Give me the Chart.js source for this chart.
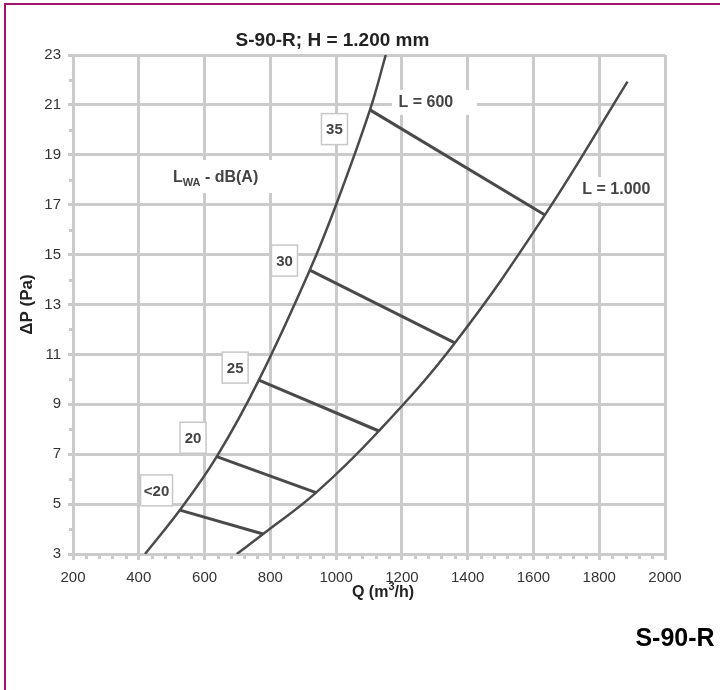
<!DOCTYPE html>
<html><head><meta charset="utf-8">
<script src="https://cdn.jsdelivr.net/npm/chart.js@4.4.1/dist/chart.umd.min.js"></script>
<style>
html,body{margin:0;padding:0;background:#fff;}
#wrap{position:relative;width:720px;height:690px;overflow:hidden;}
#frame{position:absolute;left:4px;top:3px;width:730px;height:700px;border-left:2px solid #a5156b;border-top:2px solid #a5156b;pointer-events:none;}
canvas{position:absolute;left:0;top:0;}
</style></head><body>
<div id="wrap"><canvas id="c" width="720" height="690"></canvas><div id="frame"></div></div>
<script>
// ---- data ----
const titleText = 'S-90-R; H = 1.200 mm';
const xTitle = 'Q (m³/h)';
const yTitle = 'ΔP (Pa)';
const curveNames = ['L = 600', 'L = 1.000'];
const l600Q = [419, 525, 637, 765, 920, 1000, 1103, 1151];
const l600P = [3.0, 4.76, 6.9, 9.97, 14.38, 17.0, 20.8, 23.0];
const l1000Q = [698, 778, 939, 1130, 1361, 1635, 1886];
const l1000P = [3.0, 3.8, 5.46, 7.93, 11.46, 16.59, 21.93];
const noiseLevels = ['<20', '20', '25', '30', '35'];
const noiseStartQ = [525, 637, 765, 920, 1103];
const noiseStartP = [4.76, 6.9, 9.97, 14.38, 20.8];
const noiseEndQ = [778, 939, 1130, 1361, 1635];
const noiseEndP = [3.8, 5.46, 7.93, 11.46, 16.59];
const xRange = [200, 2000], xStep = 200;
const yRange = [3, 23], yStep = 2;

// ---- layout of annotations (data coordinates) ----
const noiseLabelPos = [
  {q: 454, p: 5.55, w: 32},
  {q: 565, p: 7.66, w: 26},
  {q: 693, p: 10.47, w: 26},
  {q: 843, p: 14.76, w: 26},
  {q: 995, p: 20.03, w: 26}
];
const curveLabelPos = [
  {q: 1273, p: 21.12, bx0: 392, bx1: 477},
  {q: 1852, p: 17.63, bx0: 577, bx1: 656}
];
const unitLabelPos = {q: 504, p: 18.07};

const FONT = '"Liberation Sans", Arial, Helvetica, sans-serif';
Chart.defaults.font.family = FONT;
const GRID = '#cbcbcb';
const INK = '#4a4a4a';

const curveData = (qs, ps) => qs.map((q, i) => ({x: q, y: ps[i]}));
const datasets = [
  {label: curveNames[0], data: curveData(l600Q, l600P), borderColor: INK, borderWidth: 2.5, tension: 0.4},
  {label: curveNames[1], data: curveData(l1000Q, l1000P), borderColor: INK, borderWidth: 2.5, tension: 0.4}
];
noiseLevels.forEach((lv, i) => {
  datasets.push({label: lv + ' dB(A)', data: [{x: noiseStartQ[i], y: noiseStartP[i]}, {x: noiseEndQ[i], y: noiseEndP[i]}], borderColor: INK, borderWidth: 3});
});
datasets.forEach(d => { d.showLine = true; d.pointRadius = 0; d.fill = false; d.borderCapStyle = 'butt'; });

const annot = {
  id: 'annot',
  beforeDatasetsDraw(chart) {
    const {ctx, scales: {x, y}, chartArea: ca} = chart;
    ctx.save();
    // minor ticks
    ctx.strokeStyle = GRID; ctx.lineWidth = 3;
    for (let v = xRange[0]; v <= xRange[1]; v += 40) {
      if (v % xStep === 0) continue;
      const px = Math.round(x.getPixelForValue(v)) + 0.5;
      ctx.beginPath(); ctx.moveTo(px, ca.bottom); ctx.lineTo(px, ca.bottom + 5); ctx.stroke();
    }
    for (let v = yRange[0] + 1; v < yRange[1]; v += yStep) {
      const py = Math.round(y.getPixelForValue(v)) + 0.5;
      ctx.beginPath(); ctx.moveTo(ca.left - 4, py); ctx.lineTo(ca.left, py); ctx.stroke();
    }
    // boxed noise labels
    ctx.font = 'bold 15px ' + FONT;
    ctx.textAlign = 'center'; ctx.textBaseline = 'middle';
    noiseLevels.forEach((lv, i) => {
      const pos = noiseLabelPos[i];
      const cx = x.getPixelForValue(pos.q), cy = y.getPixelForValue(pos.p);
      const w = pos.w, h = 31;
      ctx.fillStyle = '#fff';
      ctx.fillRect(cx - w / 2, cy - h / 2, w, h);
      ctx.strokeStyle = '#c8c8c8'; ctx.lineWidth = 1.5;
      ctx.strokeRect(cx - w / 2, cy - h / 2, w, h);
      ctx.fillStyle = '#444';
      ctx.fillText(lv, cx, cy + 1);
    });
    // curve labels with white background
    ctx.font = 'bold 16px ' + FONT;
    curveNames.forEach((nm, i) => {
      const pos = curveLabelPos[i];
      const cx = x.getPixelForValue(pos.q), cy = y.getPixelForValue(pos.p);
      ctx.fillStyle = '#fff';
      ctx.fillRect(pos.bx0, cy - 12, pos.bx1 - pos.bx0, 25);
      ctx.fillStyle = '#444';
      ctx.fillText(nm, cx, cy + 1);
    });
    // L_WA - dB(A)
    const ux = x.getPixelForValue(unitLabelPos.q), uy = y.getPixelForValue(unitLabelPos.p);
    ctx.fillStyle = '#fff';
    ctx.fillRect(ux - 7, uy - 18, 108, 33);
    ctx.fillStyle = '#444';
    ctx.textAlign = 'left';
    ctx.font = 'bold 16px ' + FONT;
    ctx.fillText('L', ux, uy);
    let cx = ux + ctx.measureText('L').width;
    ctx.font = 'bold 11px ' + FONT;
    ctx.fillText('WA', cx, uy + 5);
    cx += ctx.measureText('WA').width;
    ctx.font = 'bold 16px ' + FONT;
    ctx.fillText(' - dB(A)', cx, uy);
    ctx.restore();
  },
  afterDraw(chart) {
    const {ctx} = chart;
    ctx.save();
    ctx.fillStyle = '#222';
    ctx.textBaseline = 'middle';
    // x axis title with superscript
    const parts = ['Q (m', '3', '/h)'];
    ctx.font = 'bold 16px ' + FONT;
    const w0 = ctx.measureText(parts[0]).width, w2 = ctx.measureText(parts[2]).width;
    ctx.font = 'bold 11px ' + FONT;
    const w1 = ctx.measureText(parts[1]).width;
    let sx = 383 - (w0 + w1 + w2) / 2;
    ctx.textAlign = 'left';
    ctx.font = 'bold 16px ' + FONT;
    ctx.fillText(parts[0], sx, 593);
    ctx.font = 'bold 11px ' + FONT;
    ctx.fillText(parts[1], sx + w0, 587);
    ctx.font = 'bold 16px ' + FONT;
    ctx.fillText(parts[2], sx + w0 + w1, 593);
    // model tag
    ctx.fillStyle = '#000';
    ctx.font = 'bold 25px ' + FONT;
    ctx.textAlign = 'center';
    ctx.fillText('S-90-R', 675, 639);
    ctx.restore();
  }
};

new Chart(document.getElementById('c'), {
  type: 'scatter',
  data: {datasets},
  options: {
    responsive: false,
    devicePixelRatio: 1,
    animation: false,
    layout: {padding: {top: 0, right: 55, left: 0, bottom: 0}},
    plugins: {
      legend: {display: false},
      tooltip: {enabled: false},
      title: {display: true, text: titleText, color: '#222', font: {size: 19, weight: 'bold'}, padding: {top: 29.6, bottom: 2.6}}
    },
    scales: {
      x: {
        type: 'linear', min: xRange[0], max: xRange[1],
        ticks: {stepSize: xStep, color: '#333', font: {size: 15}, padding: 9, maxRotation: 0, callback: v => String(v)},
        grid: {color: GRID, lineWidth: 3, tickLength: 6, tickColor: GRID},
        border: {color: GRID, width: 3},
        afterFit: s => { s.height = 136; }
      },
      y: {
        type: 'linear', min: yRange[0], max: yRange[1],
        ticks: {stepSize: yStep, color: '#333', font: {size: 15}, padding: 7, callback: v => String(v)},
        grid: {color: GRID, lineWidth: 3, tickLength: 5, tickColor: GRID},
        border: {color: GRID, width: 3},
        title: {display: true, text: yTitle, color: '#222', font: {size: 17, weight: 'bold'}, padding: {top: 16.8, bottom: 0}},
        afterFit: s => { s.width = 73; }
      }
    }
  },
  plugins: [annot]
});
</script>
</body></html>
